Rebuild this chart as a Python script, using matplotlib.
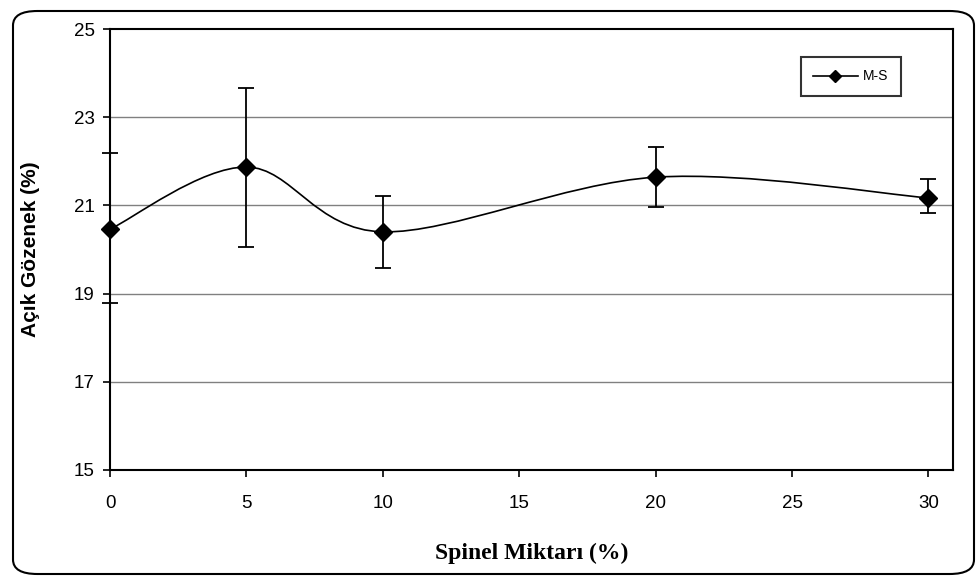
import matplotlib.pyplot as plt
import numpy as np
from matplotlib.path import Path
from matplotlib.patches import PathPatch, FancyBboxPatch

# Spinel amount (%) vs open porosity (%)
spinel = [0, 5, 10, 20, 30]
porosity = [20.46, 21.87, 20.40, 21.64, 21.17]
err_low = [18.79, 20.06, 19.58, 20.96, 20.83]
err_high = [22.19, 23.66, 21.21, 22.32, 21.60]

x_ticks = [0, 5, 10, 15, 20, 25, 30]
y_ticks = [15, 17, 19, 21, 23, 25]


def smooth_path(xs, ys):
    # Excel-style smoothed line: cubic Bezier segments through the points
    pts = np.column_stack([xs, ys]).astype(float)
    verts = [pts[0]]
    codes = [Path.MOVETO]
    n = len(pts)
    for i in range(n - 1):
        p0 = pts[i - 1] if i > 0 else pts[i]
        p1 = pts[i]
        p2 = pts[i + 1]
        p3 = pts[i + 2] if i + 2 < n else pts[i + 1]
        c1 = p1 + (p2 - p0) / 6.0
        c2 = p2 - (p3 - p1) / 6.0
        verts += [c1, c2, p2]
        codes += [Path.CURVE4] * 3
    return Path(verts, codes)


fig = plt.figure(figsize=(9.77, 5.77), dpi=100)
ax = fig.add_axes([110 / 977, 1 - 470 / 577, 843 / 977, 441 / 577])

# rounded outer frame like the Excel chart area
frame = FancyBboxPatch((13 / 977, 3 / 577), 961 / 977, 563 / 577,
                       boxstyle="round,pad=0,rounding_size=0.025",
                       transform=fig.transFigure, fill=False,
                       edgecolor='black', linewidth=1.5, clip_on=False)
fig.patches.append(frame)

for y in y_ticks[1:-1]:
    ax.axhline(y, color='#808080', linewidth=1.0, zorder=1)

ax.add_patch(PathPatch(smooth_path(spinel, porosity), fill=False,
                       edgecolor='black', linewidth=1.2, zorder=3))

yerr = [np.array(porosity) - np.array(err_low),
        np.array(err_high) - np.array(porosity)]
ax.errorbar(spinel, porosity, yerr=yerr, fmt='none', ecolor='black',
            elinewidth=1.3, capsize=6, capthick=1.3, zorder=4, clip_on=False)
ax.plot(spinel, porosity, linestyle='none', marker='D', markersize=9,
        color='black', zorder=5, clip_on=False)

# legend proxy
ax.plot([], [], color='black', marker='D', markersize=6, linewidth=1.2,
        label='M-S')
leg = ax.legend(loc='upper right', bbox_to_anchor=(901 / 977, 1 - 57 / 577),
                bbox_transform=fig.transFigure, frameon=True, fancybox=False,
                edgecolor='black', prop={'family': 'Liberation Sans', 'size': 10},
                handlelength=3.2, borderpad=0.9, handletextpad=0.4,
                borderaxespad=0)
leg.get_frame().set_linewidth(1.5)

ax.set_xlim(0, 30.9)
ax.set_ylim(15, 25)
ax.set_xticks(x_ticks)
ax.set_yticks(y_ticks)
ax.tick_params(axis='both', direction='out', length=5, width=1.2,
               labelsize=13.5)
for lab in ax.get_xticklabels() + ax.get_yticklabels():
    lab.set_family('Liberation Sans')
ax.tick_params(axis='x', pad=13)
ax.tick_params(axis='y', pad=6)

for s in ax.spines.values():
    s.set_linewidth(1.5)

ax.set_ylabel('Açık Gözenek (%)', fontfamily='Liberation Sans',
              fontweight='bold', fontsize=15, labelpad=24)
ax.set_xlabel('Spinel Miktarı (%)', fontfamily='Liberation Serif',
              fontweight='bold', fontsize=17, labelpad=22)

fig.savefig('out.png', dpi=100)
